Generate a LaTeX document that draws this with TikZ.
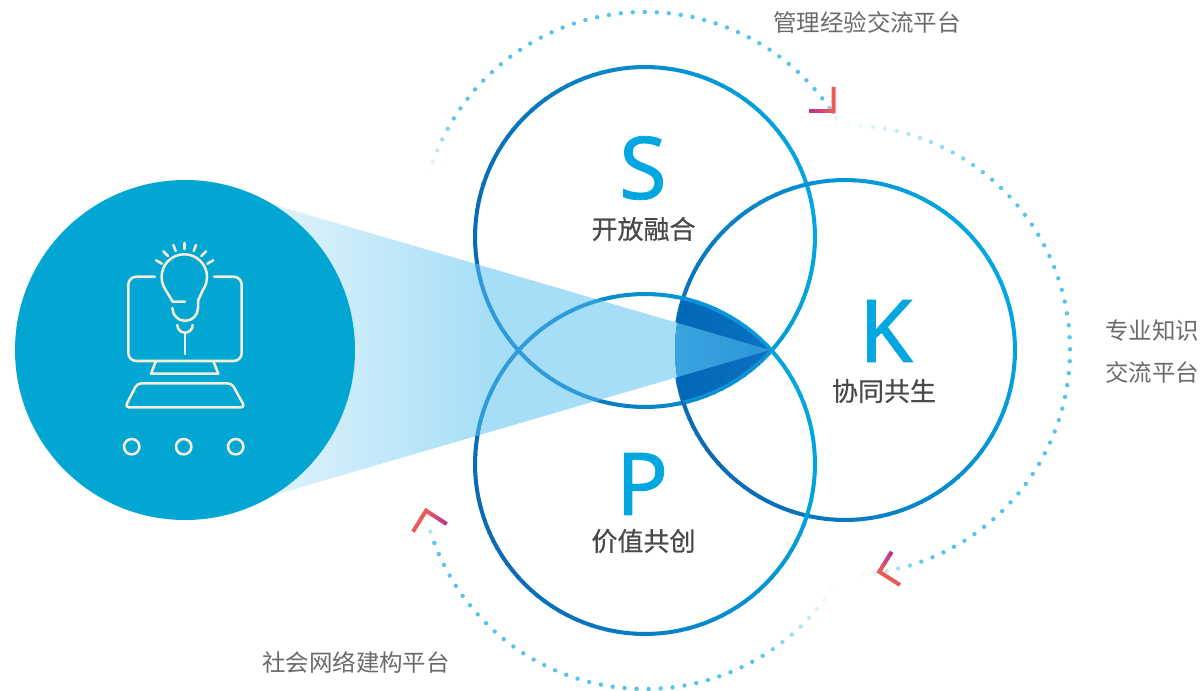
\documentclass[tikz,border=0pt]{standalone}
\usepackage{fontspec}
\setmainfont[FakeBold=0.9]{Noto Sans}
\newfontfamily\cjk{Noto Sans CJK SC}
\newfontfamily\cjkm[FakeBold=0.6]{Noto Sans CJK SC}
\usetikzlibrary{calc}
\definecolor{ringdark}{HTML}{0A6AB6}
\definecolor{ringlight}{HTML}{02A6E0}
\definecolor{discblue}{HTML}{02A6D2}
\definecolor{iconline}{HTML}{F6EEDB}
\definecolor{dotblue}{HTML}{55C3EE}
\definecolor{markred}{HTML}{EC5A58}
\definecolor{markmag}{HTML}{B5338F}
\definecolor{labelgrey}{HTML}{6A6A6A}
\definecolor{titlegrey}{HTML}{4A4A4A}
\definecolor{beampale}{HTML}{EAF7FC}
\definecolor{beamfull}{HTML}{A6DEF7}
\definecolor{beamring}{HTML}{2E9BDA}
\definecolor{coreL}{HTML}{0067B6}
\definecolor{coreR}{HTML}{0A72C0}
\definecolor{coremidL}{HTML}{3AA6DE}
\definecolor{coremidR}{HTML}{2A94D8}
\definecolor{coreedge}{HTML}{1193DA}
\tikzset{
  iconstroke/.style={draw=iconline,line width=1.9pt,line cap=round,line join=round},
  letterlabel/.style={text=ringlight,font=\fontsize{65}{65}\selectfont,inner sep=0pt},
  titlelabel/.style={text=titlegrey,font=\cjkm\fontsize{19.5}{19.5}\selectfont,inner sep=0pt},
  sidelabel/.style={text=labelgrey,font=\cjk\fontsize{17.6}{17.6}\selectfont,inner sep=0pt},
}
\newcommand{\gradring}[2]{%
  \foreach \a in {0,3,...,357}{%
    \pgfmathsetmacro{\tmix}{100*(1+cos(\a-#2))/2}%
    \pgfmathsetmacro{\bang}{\a+3.4}%
    \draw[line width=3pt,draw=ringdark!\tmix!ringlight] ($(#1)+(\a:170)$) -- ($(#1)+(\bang:170)$);
  }}
\newcommand{\dotarc}[5]{%
  \pgfmathsetmacro{\nextang}{#2+3.06}%
  \foreach \a in {#2,\nextang,...,#3}{%
    \pgfmathsetmacro{\tfrac}{(\a-#2)/(#3-#2)}%
    \pgfmathsetmacro{\op}{max(0.05,min(1,\tfrac/#4)*min(1,(1-\tfrac)/#5))}%
    \fill[dotblue,opacity=\op] ($(#1)+(\a:225)$) circle[radius=2.2];
  }}
\newcommand{\cornermark}[3]{%
  \foreach \i in {0,...,11}{%
    \pgfmathsetmacro{\ta}{\i/12}\pgfmathsetmacro{\tb}{(\i+1.15)/12}\pgfmathsetmacro{\tm}{100*(1-\i/11)}%
    \draw[line width=3pt,draw=markmag!\tm!markred] ($(#1)!\ta!(#2)$) -- ($(#1)!\tb!(#2)$);
  }
  \draw[line width=3pt,draw=markred,line join=miter] ($(#2)!0.08!(#1)$) -- (#2) -- (#3);}
\begin{document}
\begin{tikzpicture}[x=0.75pt,y=-0.75pt]
\useasboundingbox (0,0) rectangle (1201,691);
\coordinate (S) at (645,237);
\coordinate (K) at (845,350);
\coordinate (P) at (645,464);
\coordinate (D) at (185,350);
\coordinate (tip) at (770,350);
\coordinate (beamtop) at (230,192);
\coordinate (beambot) at (230,508);
% rings
\gradring{S}{170}
\gradring{K}{150}
\gradring{P}{160}
% beam
\begin{scope}
  \clip (beamtop) -- (tip) -- (beambot) -- cycle;
  \shade[left color=beampale,right color=beamfull] (230,180) rectangle (490,520);
  \fill[beamfull] (489,180) rectangle (780,520);
  \draw[beamring,line width=3pt] (S) circle[radius=170];
  \draw[beamring,line width=3pt] (P) circle[radius=170];
\end{scope}
% triple overlap
\begin{scope}
  \clip (S) circle[radius=170];
  \clip (P) circle[radius=170];
  \clip (K) circle[radius=170];
  \shade[left color=coreL,right color=coreR] (670,280) rectangle (775,420);
  \begin{scope}
    \clip (beamtop) -- (tip) -- (beambot) -- cycle;
    \shade[left color=coremidL,right color=coremidR] (670,280) rectangle (775,420);
  \end{scope}
  \draw[coreedge,line width=3pt] (S) circle[radius=170];
  \draw[coreedge,line width=3pt] (P) circle[radius=170];
\end{scope}
% left disc and icon
\fill[discblue] (D) circle[radius=170];
\begin{scope}[y=0.75pt]
  \draw[iconstroke] (155,-276.7) -- (136.3,-276.7) arc[start angle=90,end angle=180,radius=8]
     -- (128.3,-353) arc[start angle=180,end angle=270,radius=8] -- (233.7,-361)
     arc[start angle=270,end angle=360,radius=8] -- (241.7,-284.7)
     arc[start angle=0,end angle=90,radius=8] -- (214,-276.7);
  \draw[iconstroke] (185,-301.7) -- (172.7,-301.7) -- (165.7,-290)
     arc[start angle=215,end angle=-35,radius=22.7] -- (198.3,-300) -- (198,-308)
     arc[start angle=0,end angle=-180,radius=12.85];
  \draw[iconstroke] (177.3,-325) arc[start angle=180,end angle=360,radius=7.7];
  \draw[iconstroke] (185,-332.7) -- (185,-354);
  \foreach \dx/\ya/\xb/\yb in {184.7/243/184.7/249,173.3/245/175.7/251,163.3/251.3/168/256,156/260.3/162/263.7,196/245/193.7/251,206/251.3/201.3/256,213.3/260.3/207.3/263.7}{
    \draw[iconstroke] (\dx,-\ya) -- (\xb,-\yb);
  }
  \draw[iconstroke] (156,-361) -- (151,-373.7) -- (218.3,-373.7) -- (213.3,-361);
  \draw[iconstroke,rounded corners=3pt] (137.3,-383.3) -- (231.7,-383.3) -- (245,-407.3) -- (125,-407.3) -- cycle;
  \foreach \cx in {131.7,183.7,235.7}{
    \draw[iconstroke] (\cx,-446.7) circle[radius=7.7];
  }
\end{scope}
% dotted arcs
\dotarc{S}{196.5}{329}{0.12}{0.04}
\dotarc{K}{-92}{86}{0.25}{0.1}
\dotarc{P}{34}{165}{0.2}{0.04}
% corner marks
\coordinate (m1a) at (809,111.5); \coordinate (m1b) at (833.5,111.5); \coordinate (m1c) at (833.5,87);
\coordinate (m2a) at (891.7,551.7); \coordinate (m2b) at (879.3,571.7); \coordinate (m2c) at (900,585);
\coordinate (m3a) at (446.7,524); \coordinate (m3b) at (426,510.7); \coordinate (m3c) at (413,531.7);
\cornermark{m1a}{m1b}{m1c}
\cornermark{m2a}{m2b}{m2c}
\cornermark{m3a}{m3b}{m3c}
% letters and titles
\node[letterlabel] (letterS) at (643,168) {S};
\node[letterlabel] (letterK) at (886,331) {K};
\node[letterlabel] (letterP) at (642,484) {P};
\node[titlelabel] (titleS) at (643.5,229) {开放融合};
\node[titlelabel] (titleK) at (884,391) {协同共生};
\node[titlelabel] (titleP) at (643.5,541) {价值共创};
\node[sidelabel] (labA) at (867,23) {管理经验交流平台};
\node[sidelabel] (labB) at (1152,331) {专业知识};
\node[sidelabel] (labC) at (1152,372) {交流平台};
\node[sidelabel] (labD) at (356,662) {社会网络建构平台};
\end{tikzpicture}
\end{document}
